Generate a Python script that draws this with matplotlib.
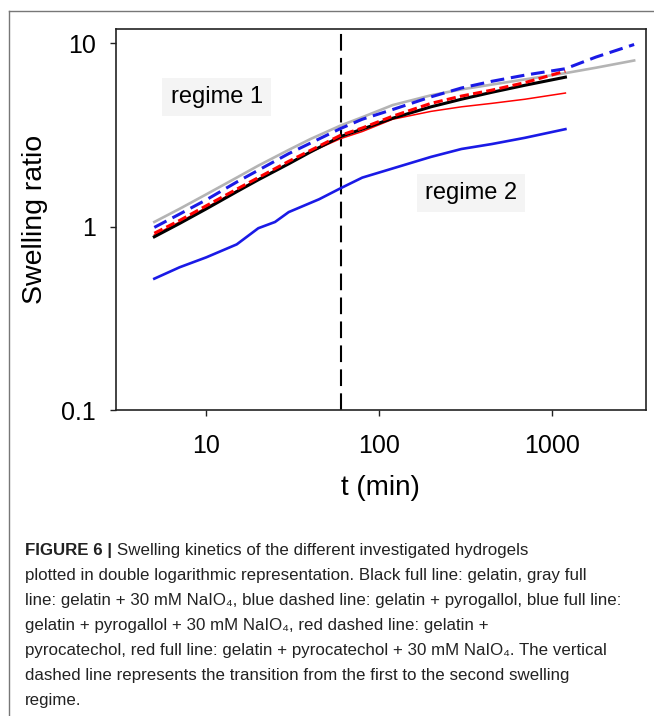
import matplotlib
matplotlib.use("Agg")
import matplotlib.pyplot as plt
from matplotlib.lines import Line2D

# swelling ratio vs time (min)
t_long = [5, 7, 10, 15, 20, 30, 40, 60, 80, 120, 200, 300, 450, 700, 1200, 1800, 3000]
t_short = [5, 7, 10, 15, 20, 30, 40, 60, 80, 120, 200, 300, 450, 700, 1200]
t_blue = [5, 7, 10, 15, 20, 25, 30, 45, 60, 80, 125, 200, 300, 450, 700, 1200]

gray_full = [1.06, 1.25, 1.5, 1.85, 2.15, 2.62, 3.0, 3.56, 3.95, 4.6, 5.2, 5.6, 5.95, 6.35, 6.87, 7.35, 8.05]
blue_dashed = [0.99, 1.17, 1.4, 1.75, 2.03, 2.5, 2.85, 3.43, 3.85, 4.35, 5.1, 5.7, 6.2, 6.7, 7.26, 8.4, 9.84]
black_full = [0.88, 1.04, 1.25, 1.55, 1.8, 2.2, 2.55, 3.1, 3.4, 3.9, 4.5, 4.95, 5.4, 5.9, 6.53]
red_dashed = [0.92, 1.08, 1.3, 1.6, 1.85, 2.27, 2.6, 3.15, 3.45, 4.0, 4.7, 5.15, 5.55, 6.1, 7.05]
red_full = [0.9, 1.06, 1.27, 1.57, 1.82, 2.22, 2.55, 3.02, 3.3, 3.85, 4.25, 4.5, 4.7, 4.95, 5.35]
blue_full = [0.52, 0.6, 0.68, 0.8, 0.98, 1.06, 1.2, 1.41, 1.62, 1.85, 2.1, 2.4, 2.65, 2.82, 3.05, 3.4]

x_ticks = [10, 100, 1000]
x_ticklabels = ["10", "100", "1000"]
y_ticks = [0.1, 1, 10]
y_ticklabels = ["0.1", "1", "10"]
t_transition = 60

caption_lines = [
    "Swelling kinetics of the different investigated hydrogels",
    "plotted in double logarithmic representation. Black full line: gelatin, gray full",
    "line: gelatin + 30 mM NaIO\u2084, blue dashed line: gelatin + pyrogallol, blue full line:",
    "gelatin + pyrogallol + 30 mM NaIO\u2084, red dashed line: gelatin +",
    "pyrocatechol, red full line: gelatin + pyrocatechol + 30 mM NaIO\u2084. The vertical",
    "dashed line represents the transition from the first to the second swelling",
    "regime.",
]

plt.rcParams['font.family'] = ['Liberation Sans', 'DejaVu Sans']
cap_size = 12.2
cap_right = 640

W, H = 654, 716
fig = plt.figure(figsize=(W / 100, H / 100), dpi=100)
ax = fig.add_axes([116 / W, 1 - 410 / H, 529.7 / W, 381.3 / H])

ax.plot(t_short, red_full, color='#ff0000', lw=1.1, zorder=3)
ax.plot(t_short, black_full, color='black', lw=2.2, zorder=4)
ax.plot(t_short, red_dashed, color='#ff0000', lw=2.2, dashes=(3, 1.4), zorder=5)
ax.plot(t_long, gray_full, color='#b4b4b4', lw=1.9, zorder=3)
ax.plot(t_long, blue_dashed, color='#1a1ae6', lw=2.2, dashes=(4.5, 2.2), zorder=6)
ax.plot(t_blue, blue_full, color='#1a1ae6', lw=1.9, zorder=6)

ax.axvline(t_transition, color='black', lw=1.5, dashes=(8, 3.5), zorder=2)

ax.set_xscale('log')
ax.set_yscale('log')
ax.set_xlim(3, 3500)
ax.set_ylim(0.1, 12)
ax.set_xticks(x_ticks)
ax.set_xticklabels(x_ticklabels)
ax.set_yticks(y_ticks)
ax.set_yticklabels(y_ticklabels)
ax.minorticks_off()
ax.tick_params(direction='out', length=4.5, width=1, labelsize=18, color='#222222')
ax.tick_params(axis='x', pad=13)
ax.tick_params(axis='y', pad=10)
for s in ax.spines.values():
    s.set_linewidth(1.2)
    s.set_color('#222222')

ax.set_xlabel('t (min)', fontsize=20, va='center')
ax.xaxis.set_label_coords(0.5, -0.205)
ax.set_ylabel('Swelling ratio', fontsize=20.5, va='center')
ax.yaxis.set_label_coords(-0.153, 0.5)

box = dict(facecolor='#f4f4f4', edgecolor='none', pad=6)
ax.text(0.19, 0.821, 'regime 1', transform=ax.transAxes, fontsize=17,
        ha='center', va='center', bbox=box)
ax.text(0.67, 0.569, 'regime 2', transform=ax.transAxes, fontsize=17,
        ha='center', va='center', bbox=box)

# outer frame (top and left edges)
fig.add_artist(Line2D([9 / W, 9 / W], [0, 1 - 11 / H], color='#777777', lw=1))
fig.add_artist(Line2D([9 / W, 1], [1 - 11 / H, 1 - 11 / H], color='#777777', lw=1))

# caption
x0 = 25 / W
base = 555
head = fig.text(x0, 1 - base / H, 'FIGURE 6 | ', fontsize=cap_size, fontweight='bold',
                color='#222222', va='baseline')
fig.canvas.draw()
bb = head.get_window_extent()
texts = [fig.text(bb.x1 / W, 1 - base / H, caption_lines[0], fontsize=cap_size,
                  color='#222222', va='baseline')]
for i, line in enumerate(caption_lines[1:], start=1):
    texts.append(fig.text(x0, 1 - (base + 25 * i) / H, line, fontsize=cap_size,
                          color='#222222', va='baseline'))

# safety: shrink a line only if it would run past the right edge
fig.canvas.draw()
for txt in texts:
    e = txt.get_window_extent()
    if e.x1 > cap_right:
        txt.set_fontsize(cap_size * (cap_right - e.x0) / (e.x1 - e.x0))

fig.savefig('out.png', dpi=100)
